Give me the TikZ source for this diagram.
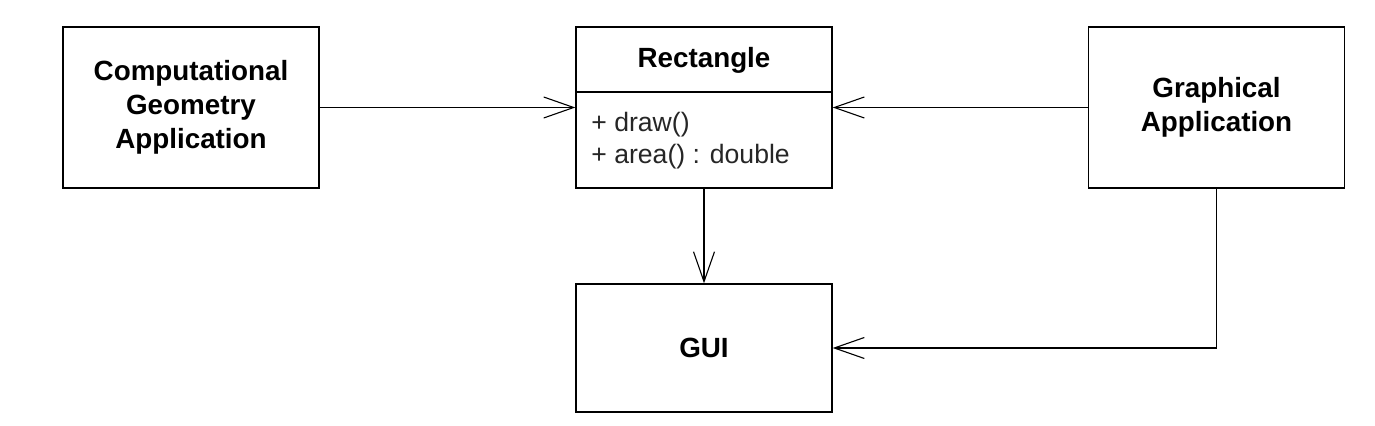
\documentclass[tikz,border=0pt]{standalone}
\usepackage{fontspec}
\setmainfont{Liberation Sans}
\usetikzlibrary{arrows.meta,positioning}
\begin{document}
\begin{tikzpicture}[x=0.5pt,y=-0.5pt,
  box/.style={draw, line width=0.65pt, rectangle, inner sep=0pt, minimum width=128pt, minimum height=80.5pt},
  title/.style={font=\fontsize{13.9}{17}\selectfont\bfseries, align=center, inner sep=0pt},
  ops/.style={font=\fontsize{13.3}{16}\selectfont, align=left, anchor=west, inner sep=0pt, text=black!85},
  conn/.style={line width=0.55pt, -{Straight Barb[length=15pt,width=10.5pt,line width=0.55pt]}}
]
\useasboundingbox (0,0) rectangle (1375,426);
\node[box] (cga) at (191,107.5) {};
\node[title] (cgat) at (cga.center) {Computational\\Geometry\\Application};
\node[box] (rect) at (704,107.5) {};
\draw[line width=0.65pt] (576,92) coordinate (dl) -- (832,92) coordinate (dr);
\node[title] (rectt) at (704,60) {Rectangle};
\node[ops] (recto) at (591,141) {+ draw()\\+ area() : double};
\node[box] (ga) at (1216.5,107.5) {};
\node[title] (gat) at (ga.center) {Graphical\\Application};
\node[box, minimum height=64pt] (gui) at (704,348) {};
\node[title] (guit) at (gui.center) {GUI};
\draw[conn] (cga.east) -- (rect.west);
\draw[conn] (ga.west) -- (rect.east);
\draw[conn] (rect.south) -- (gui.north);
\draw[conn] (ga.south) -- (ga.south |- gui.east) -- (gui.east);
\end{tikzpicture}
\end{document}
